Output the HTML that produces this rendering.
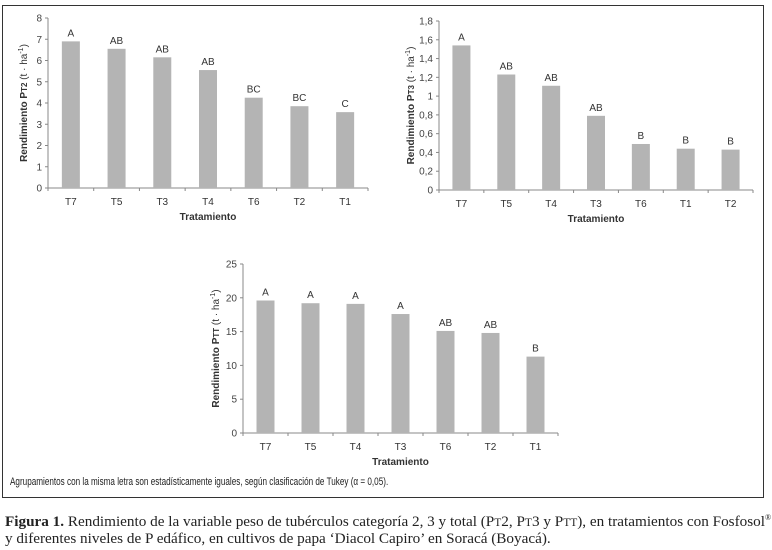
<!DOCTYPE html>
<html><head><meta charset="utf-8"><style>
body{margin:0;background:#fff;width:772px;height:550px;overflow:hidden;position:relative;font-family:"Liberation Sans",Arial,sans-serif}
#frame{position:absolute;left:2px;top:5px;width:760px;height:491px;border:1px solid #333}
svg{position:absolute;left:0;top:0}
.cap{position:absolute;left:5px;font-family:"Liberation Serif",serif;font-size:15.2px;line-height:17px;color:#222;white-space:nowrap}
#cap1{width:762px;text-align:justify;text-align-last:justify}
#note{position:absolute;left:10px;top:476px;font-size:11px;color:#222;transform:scaleX(0.74);transform-origin:left top;white-space:nowrap}
</style></head><body>
<div id="frame"></div>
<svg id="svg" width="772" height="550"></svg>
<div id="note">Agrupamientos con la misma letra son estadísticamente iguales, según clasificación de Tukey (α = 0,05).</div>
<div class="cap" id="cap1" style="top:513px"><b>Figura 1.</b> Rendimiento de la variable peso de tubérculos categoría 2, 3 y total (P<span style="font-size:11.5px">T</span>2, P<span style="font-size:11.5px">T</span>3 y P<span style="font-size:11.5px">TT</span>), en tratamientos con Fosfosol<sup style="font-size:8px;line-height:0">®</sup></div>
<div class="cap" style="top:530px">y diferentes niveles de P edáfico, en cultivos de papa ‘Diacol Capiro’ en Soracá (Boyacá).</div>
<script>
const cats1=["T7","T5","T3","T4","T6","T2","T1"];
const vals1=[6.9,6.55,6.15,5.55,4.25,3.85,3.57];
const letters1=["A","AB","AB","AB","BC","BC","C"];
const ticks1=["0","1","2","3","4","5","6","7","8"];
const cats2=["T7","T5","T4","T3","T6","T1","T2"];
const vals2=[1.54,1.23,1.11,0.79,0.49,0.44,0.43];
const letters2=["A","AB","AB","AB","B","B","B"];
const ticks2=["0","0,2","0,4","0,6","0,8","1","1,2","1,4","1,6","1,8"];
const cats3=["T7","T5","T4","T3","T6","T2","T1"];
const vals3=[19.6,19.2,19.1,17.6,15.1,14.8,11.3];
const letters3=["A","A","A","A","AB","AB","B"];
const ticks3=["0","5","10","15","20","25"];
const svg=document.getElementById('svg');
const NS="http://www.w3.org/2000/svg";
function mk(tag,at,txt){const e=document.createElementNS(NS,tag);for(const k in at)e.setAttribute(k,at[k]);if(txt!=null)e.textContent=txt;svg.appendChild(e);return e;}
function chart(id,cats,vals,letters,ticks,max,x0,x1,y0,y1,ylab,ytitle,sub){
  const yS=v=>y0-(v/max)*(y0-y1);
  const bw=(x1-x0)/cats.length;
  const xS=i=>x0+bw*(i+0.5);
  let l=mk('line',{x1:x0,y1:y0,x2:x0,y2:y1,stroke:'#888','stroke-width':1});
  
  l=mk('line',{x1:x0,y1:y0,x2:x1,y2:y0,stroke:'#888','stroke-width':1});
  
  ticks.forEach(t=>{const v=parseFloat(t.replace(',','.'));const y=yS(v);
    mk('line',{x1:x0-3,y1:y,x2:x0,y2:y,stroke:'#888'});
    const tx=mk('text',{x:x0-6,y:y+3.5,'text-anchor':'end','font-size':'10','fill':'#444'},t);
    });
  for(let i=0;i<=cats.length;i++){mk('line',{x1:x0+bw*i,y1:y0,x2:x0+bw*i,y2:y0+3,stroke:'#888'});}
  cats.forEach((c,i)=>{const x=xS(i),y=yS(vals[i]);
    const r=mk('rect',{x:x-9,y:y,width:18,height:y0-y,fill:'#b4b4b4'});
    
    const lt=mk('text',{x:x,y:y-5,'text-anchor':'middle','font-size':'10','fill':'#333'},letters[i]);
    
    const cl=mk('text',{x:x,y:y0+17,'text-anchor':'middle','font-size':'10','fill':'#333'},c);
    });
  const xt=mk('text',{x:(x0+x1)/2,y:y0+32,'text-anchor':'middle','font-size':'10','font-weight':'bold','fill':'#333'},'Tratamiento');
  
  const cy=(y0+y1)/2;
  const yt=mk('text',{x:ylab,y:cy,'text-anchor':'middle','font-size':'10','font-weight':'bold','fill':'#333',transform:`rotate(-90 ${ylab} ${cy})`});
  yt.innerHTML=`Rendimiento P<tspan font-size="8">${sub}</tspan> <tspan font-weight="normal">(t · ha</tspan><tspan font-weight="normal" font-size="7" dy="-4">-1</tspan><tspan font-weight="normal" dy="4">)</tspan>`;
  
}
chart('chart-pt2',cats1,vals1,letters1,ticks1,8,48,368,188,18,27,'','T2');
chart('chart-pt3',cats2,vals2,letters2,ticks2,1.8,439,753,190,21,414,'','T3');
chart('chart-ptt',cats3,vals3,letters3,ticks3,25,243,558,433,264,219,'','TT');
</script>
</body></html>
